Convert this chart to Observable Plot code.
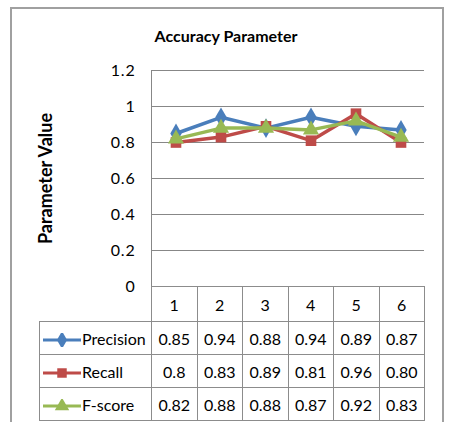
<!DOCTYPE html>
<html>
<head>
<meta charset="utf-8">
<script src="https://cdn.jsdelivr.net/npm/d3@7"></script>
<script src="https://cdn.jsdelivr.net/npm/@observablehq/plot@0.6"></script>
<style>
  html, body { margin: 0; padding: 0; background: #fff; width: 449px; height: 422px; overflow: hidden; }
  body { position: relative; font-family: Lato, "Open Sans", sans-serif; color: #000; }
  #frame { position: absolute; left: 10px; top: 7px; width: 434px; height: 440px; border: 2px solid #a0a0a0; box-sizing: border-box; }
  #title { position: absolute; left: 0; top: 26px; width: 452px; text-align: center; font-weight: bold; font-size: 16px; }
  #chart { position: absolute; left: 0; top: 0; }
  #table { position: absolute; left: 39px; top: 286px; border-collapse: collapse; table-layout: fixed; font-size: 16px; }
  #table td { border: 1px solid #8c8c8c; padding: 0; text-align: center; white-space: nowrap; overflow: hidden; }
  #table td.blank { border-left: none; border-top: none; border-bottom: 1px solid #8c8c8c; }
  #table td.lab { text-align: left; padding-left: 3px; }
  #table td.lab svg { vertical-align: middle; margin-right: 1px; }
</style>
</head>
<body>
<div id="frame"></div>
<div id="title">Accuracy Parameter</div>
<div id="chart"></div>
<table id="table"></table>
<script>
const categories = ["1", "2", "3", "4", "5", "6"];
const seriesNames = ["Precision", "Recall", "F-score"];
const precision = [0.85, 0.94, 0.88, 0.94, 0.89, 0.87];
const recall = [0.8, 0.83, 0.89, 0.81, 0.96, 0.80];
const fscore = [0.82, 0.88, 0.88, 0.87, 0.92, 0.83];
const precisionText = ["0.85", "0.94", "0.88", "0.94", "0.89", "0.87"];
const recallText = ["0.8", "0.83", "0.89", "0.81", "0.96", "0.80"];
const fscoreText = ["0.82", "0.88", "0.88", "0.87", "0.92", "0.83"];
const yTicks = [0, 0.2, 0.4, 0.6, 0.8, 1, 1.2];
const colors = ["#4a7ebb", "#be4b48", "#98b954"];
const symbols = ["diamond", "square", "triangle"];

const seriesValues = [precision, recall, fscore];
const seriesText = [precisionText, recallText, fscoreText];
const rows = seriesNames.flatMap((s, i) => categories.map((c, j) => ({series: s, cat: c, value: seriesValues[i][j]})));

const marks = [
  Plot.ruleY(yTicks, {stroke: "#878787", strokeWidth: 1, strokeOpacity: 1}),
  Plot.frame({anchor: "left", stroke: "#878787", strokeOpacity: 1}),
  Plot.axisY({ticks: yTicks, tickFormat: d => String(d), tickSize: 0, tickPadding: 16, fontSize: 16, label: "Parameter Value", labelAnchor: "center", labelOffset: 112, labelArrow: "none"})
];
seriesNames.forEach((s, i) => {
  const d = rows.filter(r => r.series === s);
  marks.push(Plot.line(d, {x: "cat", y: "value", stroke: colors[i], strokeWidth: 3.5}));
  marks.push(Plot.dot(d, {x: "cat", y: "value", fill: colors[i], stroke: "none", symbol: symbols[i], r: 6}));
});

const chart = Plot.plot({
  width: 449,
  height: 300,
  marginLeft: 151,
  marginRight: 25,
  marginTop: 70,
  marginBottom: 14,
  style: {fontFamily: "Lato, 'Open Sans', sans-serif", fontSize: "16px", background: "transparent", color: "#000", overflow: "visible"},
  x: {type: "band", domain: categories, padding: 0, axis: null},
  y: {domain: [0, 1.2], axis: null},
  marks
});
chart.querySelectorAll("g[aria-label='y-axis tick label'] text").forEach(t => { t.setAttribute("letter-spacing", "0.8"); });
chart.querySelectorAll("g[aria-label='y-axis label'] text").forEach(t => { t.setAttribute("font-weight", "bold"); t.setAttribute("font-size", "18"); });
document.getElementById("chart").appendChild(chart);

// data table below the plot
const table = d3.select("#table");
const cg = table.append("colgroup");
cg.append("col").style("width", "112px");
categories.forEach(() => cg.append("col").style("width", "45.5px"));
const head = table.append("tr").style("height", "35px");
head.append("td").attr("class", "blank");
categories.forEach(c => head.append("td").text(c));
seriesNames.forEach((s, i) => {
  const tr = table.append("tr").style("height", "33px");
  const lab = tr.append("td").attr("class", "lab");
  const sw = lab.append("svg").attr("width", 38).attr("height", 14);
  sw.append("line").attr("x1", 0).attr("x2", 38).attr("y1", 7).attr("y2", 7).attr("stroke", colors[i]).attr("stroke-width", 3);
  const symType = [d3.symbolDiamond, d3.symbolSquare, d3.symbolTriangle][i];
  sw.append("path").attr("d", d3.symbol(symType, 90)()).attr("transform", "translate(19,7)").attr("fill", colors[i]);
  lab.append("span").text(s);
  seriesText[i].forEach(t => tr.append("td").text(t));
});
</script>
</body>
</html>
